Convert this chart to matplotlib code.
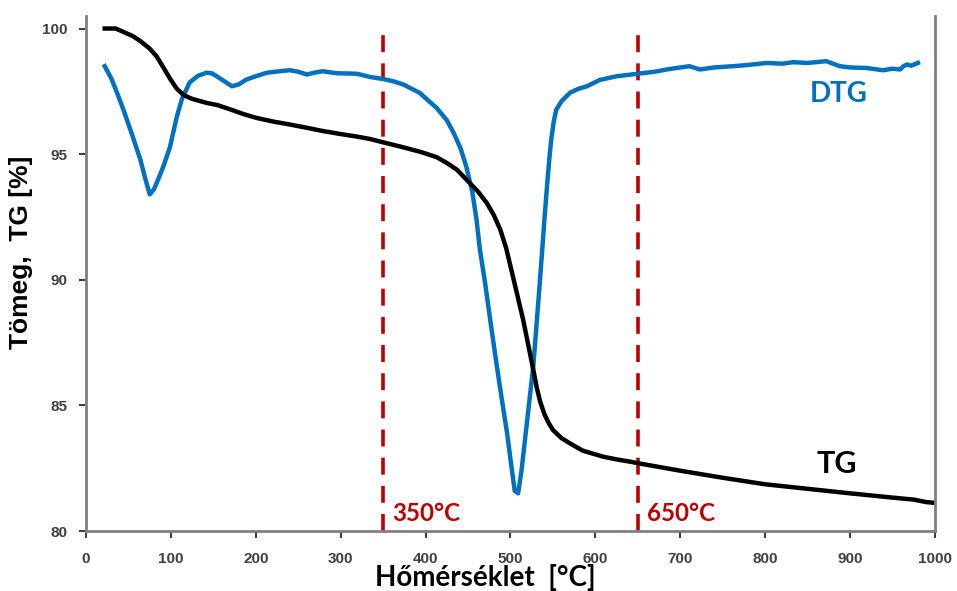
import matplotlib
import matplotlib.pyplot as plt

matplotlib.use('agg')

# TG görbe (tömeg, %)
tg_x = [22, 35, 45, 55, 64, 75, 83, 92, 99, 107, 115, 125, 142, 155, 170, 185,
        201, 220, 240, 260, 279, 300, 319, 335, 350, 374, 395, 413, 425, 437,
        452, 462, 472, 480, 488, 495, 501, 508, 515, 521, 527, 531, 535, 540,
        545, 550, 560, 570, 585, 600, 609, 625, 641, 650, 675, 700, 750, 800,
        850, 900, 950, 975, 990, 1000]
tg_y = [100.0, 100.0, 99.85, 99.7, 99.5, 99.2, 98.9, 98.4, 98.0, 97.6, 97.35,
        97.2, 97.04, 96.95, 96.78, 96.6, 96.44, 96.3, 96.18, 96.05, 95.92, 95.8,
        95.7, 95.6, 95.47, 95.27, 95.08, 94.88, 94.65, 94.38, 93.85, 93.5,
        93.06, 92.6, 92.0, 91.25, 90.4, 89.4, 88.4, 87.4, 86.4, 85.7, 85.15,
        84.65, 84.3, 84.02, 83.7, 83.49, 83.2, 83.05, 82.96, 82.85, 82.76, 82.7,
        82.55, 82.4, 82.12, 81.86, 81.68, 81.5, 81.33, 81.25, 81.15, 81.12]

# DTG görbe (skálázva)
dtg_x = [22, 30, 37, 44, 54, 64, 70, 75, 80, 85, 91, 99, 107, 113, 122, 132,
         142, 148, 154, 163, 172, 180, 189, 200, 213, 228, 240, 250, 260, 270,
         279, 295, 319, 335, 350, 362, 374, 393, 413, 425, 433, 441, 448, 455,
         460, 464, 470, 477, 484, 490, 496, 501, 505, 509, 513, 518, 523, 527,
         530, 533, 537, 540, 543, 546, 548, 551, 554, 560, 570, 580, 590, 605,
         625, 650, 670, 684, 700, 711, 723, 740, 762, 780, 802, 820, 833, 850,
         872, 880, 888, 900, 919, 930, 939, 950, 959, 963, 967, 972, 980]
dtg_y = [98.5, 98.0, 97.4, 96.77, 95.8, 94.78, 94.0, 93.4, 93.6, 94.0, 94.5,
         95.3, 96.5, 97.2, 97.85, 98.12, 98.24, 98.22, 98.1, 97.9, 97.7, 97.78,
         97.97, 98.1, 98.24, 98.3, 98.34, 98.28, 98.17, 98.25, 98.3, 98.22,
         98.2, 98.07, 97.99, 97.9, 97.77, 97.44, 96.84, 96.35, 95.85, 95.25,
         94.5, 93.5, 92.4, 91.2, 89.9, 88.2, 86.55, 85.2, 83.9, 82.6, 81.6,
         81.5, 82.4, 83.9, 85.4, 86.6, 87.9, 89.2, 91.0, 92.4, 93.7, 94.9,
         95.58, 96.3, 96.77, 97.1, 97.44, 97.6, 97.7, 97.95, 98.1, 98.2, 98.28,
         98.37, 98.45, 98.5, 98.37, 98.45, 98.5, 98.55, 98.63, 98.6, 98.66,
         98.63, 98.7, 98.6, 98.5, 98.45, 98.43, 98.38, 98.34, 98.4, 98.37,
         98.5, 98.57, 98.52, 98.63]

hatarok = [350, 650]
hatar_cimkek = ['350°C', '650°C']

plt.rcParams['font.family'] = 'Liberation Sans'
plt.rcParams['font.weight'] = 'bold'

fig = plt.figure(figsize=(9.57, 5.91), dpi=100)
ax = fig.add_axes([0.0899, 0.1015, 0.887, 0.8715])

piros = '#C00000'
for h in hatarok:
    ax.axvline(h, ymin=0, ymax=0.98, color=piros, lw=2.6, dashes=(4.7, 3.1))

ax.plot(dtg_x, dtg_y, color='#0070C0', lw=3.2, solid_joinstyle='round')
ax.plot(tg_x, tg_y, color='black', lw=3.2, solid_joinstyle='round')

ax.set_xlim(0, 1000)
ax.set_ylim(80, 100.5)
ax.set_xticks(range(0, 1001, 100))
ax.set_yticks([80, 85, 90, 95, 100])

for s in ['left', 'bottom', 'right']:
    ax.spines[s].set_color('#808080')
    ax.spines[s].set_linewidth(2)
ax.spines['top'].set_visible(False)
ax.tick_params(axis='both', direction='out', length=5, width=1.5, color='#404040',
               labelsize=11, labelcolor='#404040')
ax.tick_params(axis='x', pad=10)
ax.tick_params(axis='y', pad=8)

# tengelyfeliratok (kissé balra/feljebb tolva, mint az eredetin)
fig.text(21 / 957, 1 - 252 / 591, 'Tömeg,  TG [%]', rotation=90, fontsize=19,
         ha='center', va='center')
fig.text(485 / 957, 1 - 586 / 591, 'Hőmérséklet  [°C]', fontsize=20,
         family='Lato', ha='center', va='baseline')

ax.text(887, 97.4, 'DTG', color='#0070C0', fontsize=20,
        family='Lato', ha='center', va='center')
ax.text(884, 82.67, 'TG', color='black', fontsize=22,
        family='Lato', ha='center', va='center')
for h, c in zip(hatarok, hatar_cimkek):
    ax.text(h + 11, 80.68, c, color=piros, fontsize=17.4,
            family='Lato', ha='left', va='center')

fig.savefig('out.png', dpi=100)
